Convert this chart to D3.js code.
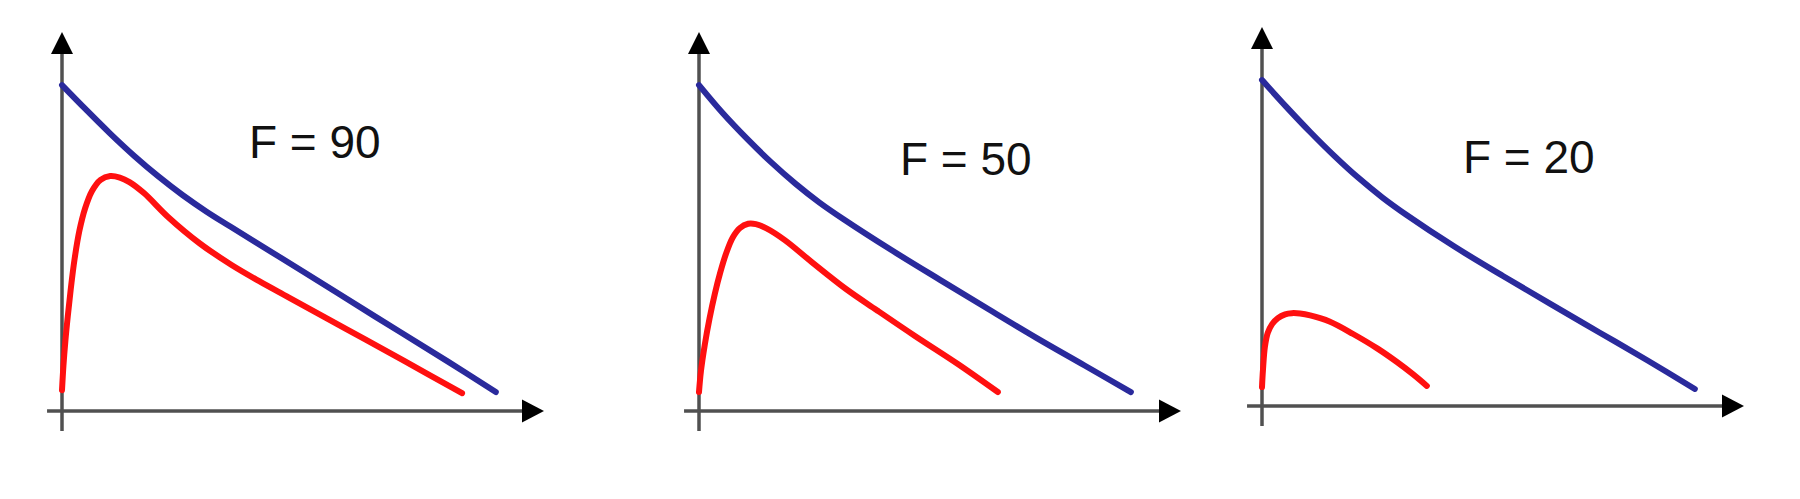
<html>
	<head>
		<title>F curves</title>
		<script src="https://d3js.org/d3.v7.min.js"></script>
		<style>
			body { margin: 0; background: #fff; }
		</style>
	</head>
	<body>
		<div id="chart"></div>
	</body>
	<script>
		// one label per panel
		const fValues = [90, 50, 20];

		// blue curve, [x, y] in axis units (0..100)
		const blue90 = [[0,86],[5,79.5],[10,73.2],[15,67.3],[20,61.9],[25,57.0],[30,52.6],[35,48.6],[50,36.8],[65,24.9],[80,13.1],[90,5.0]];
		const blue50 = [[0,86],[5,78.5],[10,71.8],[15,65.6],[20,60.0],[25,55.0],[30,50.6],[40,42.4],[50,34.6],[60,26.9],[70,19.3],[80,12.0],[89.6,5.0]];
		const blue20 = [[0,86],[5,79],[10,72.3],[15,66],[20,60.2],[25,55],[30,50.4],[40,42],[50,34.3],[60,26.8],[70,19.4],[80,12.0],[89.8,4.5]];

		// red curve
		const red90 = [[0,5.5],[0.3,12],[0.7,18.5],[1.2,25],[1.8,32],[2.6,40],[3.6,47.5],[4.8,53.5],[6.2,58],[8,61],[10,62],[12,61.6],[14,60.4],[17,57.5],[22,51.2],[28.6,44.2],[35.1,38.6],[41,34.2],[47,30],[59,21.6],[71,13.2],[83,4.7]];
		const red50 = [[0,5],[0.4,10.5],[1.2,17.5],[2.2,24.5],[3.3,31],[4.4,36.5],[5.6,41.5],[7,45.8],[8.5,48.3],[10.2,49.4],[11.8,49.3],[14,48.2],[17.8,45.1],[23.4,39.3],[30.5,32.2],[36.9,26.6],[44.8,19.8],[53.7,12.4],[62,5]];
		const red20 = [[0,5.0],[0.2,9.5],[0.6,15.6],[1.2,19.3],[2.1,21.6],[3.3,23.2],[4.8,24.2],[6.2,24.5],[7.9,24.4],[10,23.9],[14,22.3],[18.9,19.0],[23.9,15.2],[28,11.6],[31.3,8.4],[34.2,5.3]];

		const blueSeries = [blue90, blue50, blue20];
		const redSeries = [red90, red50, red20];

		// label anchor in axis units
		const labelPos = [[39.4, 66.8], [42.3, 62.3], [42.3, 61.5]];

		// panel layout (pixel origin of each axis pair)
		const origins = [[62, 411], [699, 411], [1262, 406]];
		const axW = 482, axH = 379;

		const svg = d3.select("#chart")
			.append("svg")
			.attr("width", 1800)
			.attr("height", 499);

		origins.forEach(function(o, i){
			const x = d3.scaleLinear().domain([0, 100]).range([o[0], o[0] + axW]);
			const y = d3.scaleLinear().domain([0, 100]).range([o[1], o[1] - axH]);
			const g = svg.append("g");

			// axes
			g.append("line")
				.attr("x1", x(-3.1)).attr("x2", x(97))
				.attr("y1", y(0)).attr("y2", y(0))
				.attr("stroke", "#505050").attr("stroke-width", 3.5);
			g.append("line")
				.attr("x1", x(0)).attr("x2", x(0))
				.attr("y1", y(-5.3)).attr("y2", y(96))
				.attr("stroke", "#505050").attr("stroke-width", 3.5);

			// arrow heads
			const tx = x(100), ty = y(0);
			g.append("path")
				.attr("d", "M" + tx + "," + ty + "L" + (tx - 22) + "," + (ty - 11.5) + "L" + (tx - 22) + "," + (ty + 11.5) + "Z")
				.attr("fill", "#000");
			const ux = x(0), uy = y(100);
			g.append("path")
				.attr("d", "M" + ux + "," + uy + "L" + (ux - 11) + "," + (uy + 22) + "L" + (ux + 11) + "," + (uy + 22) + "Z")
				.attr("fill", "#000");

			const line = d3.line()
				.x(function(d){ return x(d[0]); })
				.y(function(d){ return y(d[1]); })
				.curve(d3.curveCatmullRom.alpha(0.5));

			g.append("path")
				.attr("d", line(blueSeries[i]))
				.attr("fill", "none")
				.attr("stroke", "#2a2a9c")
				.attr("stroke-width", 6)
				.attr("stroke-linecap", "round")
				.attr("stroke-linejoin", "round");

			g.append("path")
				.attr("d", line(redSeries[i]))
				.attr("fill", "none")
				.attr("stroke", "#ff1010")
				.attr("stroke-width", 6)
				.attr("stroke-linecap", "round")
				.attr("stroke-linejoin", "round");

			g.append("text")
				.attr("x", x(labelPos[i][0]) - 3)
				.attr("y", y(labelPos[i][1]))
				.attr("font-family", "Liberation Sans, Arial, sans-serif")
				.attr("font-size", 46)
				.attr("fill", "#111")
				.text("F = " + fValues[i]);
		});
	</script>
</html>
